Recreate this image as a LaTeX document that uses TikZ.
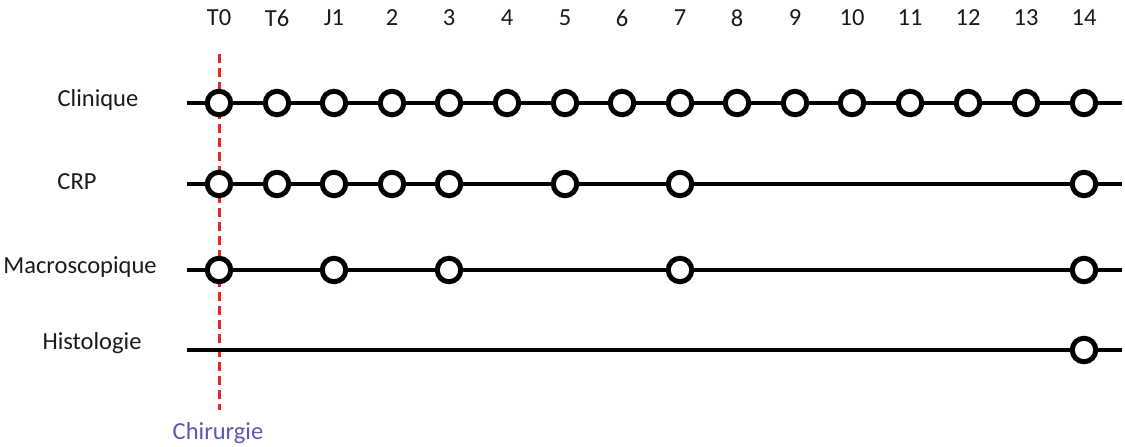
\documentclass[tikz,border=0pt]{standalone}
\usepackage{fontspec}
\setmainfont{Carlito}
\definecolor{txt}{HTML}{1A1A1A}
\definecolor{surg}{HTML}{E8262A}
\definecolor{chir}{HTML}{5A5AB0}
\begin{document}
\begin{tikzpicture}[x=1pt,y=-1pt,
  lbl/.style={font=\fontsize{24.5}{28}\selectfont, text=txt, inner sep=0pt},
  axis/.style={line width=4pt, black},
  pt/.style={circle, draw=black, fill=white, line width=5pt, minimum size=23.5pt, inner sep=0pt},
  surgline/.style={line width=3pt, surg, dash pattern=on 9pt off 5pt}]
\useasboundingbox (0,0) rectangle (1125,447);
% column headers
\foreach \n/\x in {T0/219,T6/277,J1/334,2/392,3/449,4/507,5/565,6/622,7/680,8/737,9/795,10/852,11/910,12/968,13/1026,14/1084}
  \node[lbl] (h\n) at (\x,18) {\n};
% row labels
\node[lbl] (lclin) at (98,100) {Clinique};
\node[lbl] (lcrp) at (77,182) {CRP};
\node[lbl] (lmac) at (80,267) {Macroscopique};
\node[lbl] (lhis) at (92,343) {Histologie};
% surgery line
\coordinate (sTop) at (219,54);
\coordinate (sBot) at (219,410);
\draw[surgline] (sTop) -- (sBot);
\node[lbl, text=chir] (chir) at (218,433) {Chirurgie};
% rows
\foreach \r/\y in {clin/103,crp/184,mac/270,his/350}{
  \coordinate (\r L) at (187,\y);
  \coordinate (\r R) at (1122,\y);
  \draw[axis] (\r L) -- (\r R);
}
\foreach \x [count=\i] in {219,277,334,392,449,507,565,622,680,737,795,852,910,968,1026,1084}
  \node[pt] (clin\i) at (\x,103) {};
\foreach \x [count=\i] in {219,277,334,392,449,565,680,1084}
  \node[pt] (crp\i) at (\x,184) {};
\foreach \x [count=\i] in {219,334,449,680,1084}
  \node[pt] (mac\i) at (\x,270) {};
\node[pt] (his1) at (1084,350) {};
\end{tikzpicture}
\end{document}
